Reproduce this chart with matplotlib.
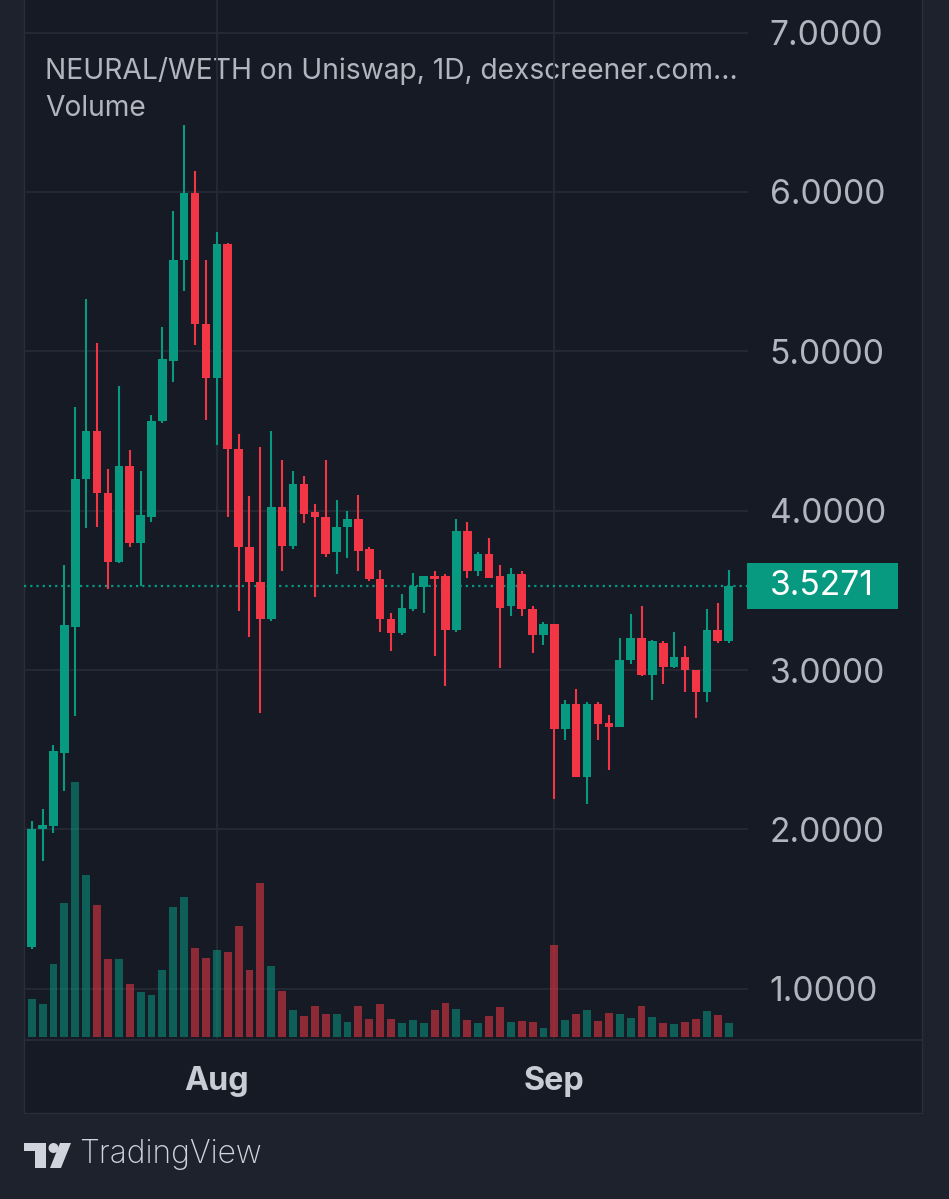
import numpy as np
import pandas as pd
import matplotlib
matplotlib.use('Agg')
import matplotlib.pyplot as plt
from matplotlib.patches import Rectangle, Circle, Polygon
from matplotlib.transforms import blended_transform_factory

plt.rcParams['font.family'] = ['Inter', 'DejaVu Sans']

# daily candles, 15 Jul -> 18 Sep
dates = pd.date_range('2024-07-15', periods=65, freq='D')

opens = [1.26, 2.00, 2.02, 2.48, 3.27, 4.20, 4.50, 4.11, 3.68, 4.28,
         3.80, 3.96, 4.56, 4.94, 5.57, 5.99, 5.17, 4.83, 5.67, 4.39,
         3.77, 3.55, 3.32, 4.02, 3.78, 4.17, 3.99, 3.96, 3.74, 3.90,
         3.95, 3.76, 3.57, 3.32, 3.23, 3.38, 3.52, 3.59, 3.59, 3.25,
         3.87, 3.62, 3.73, 3.59, 3.40, 3.60, 3.38, 3.22, 3.29, 2.63,
         2.79, 2.33, 2.79, 2.67, 2.645, 3.06, 3.20, 2.97, 3.17, 3.02,
         3.08, 3.00, 2.86, 3.25, 3.18]
highs = [2.05, 2.13, 2.53, 3.66, 4.65, 5.33, 5.05, 4.26, 4.78, 4.38,
         4.25, 4.60, 5.15, 5.88, 6.42, 6.13, 5.57, 5.75, 5.68, 4.48,
         4.09, 4.40, 4.50, 4.32, 4.25, 4.22, 4.04, 4.32, 4.07, 4.00,
         4.10, 3.77, 3.63, 3.36, 3.48, 3.61, 3.59, 3.62, 3.60, 3.95,
         3.93, 3.74, 3.83, 3.66, 3.64, 3.62, 3.40, 3.30, 3.29, 2.81,
         2.88, 2.80, 2.80, 2.72, 3.20, 3.35, 3.40, 3.19, 3.18, 3.24,
         3.15, 3.00, 3.38, 3.42, 3.63]
lows = [1.25, 1.80, 1.98, 2.24, 2.71, 3.89, 3.90, 3.51, 3.67, 3.77,
        3.53, 3.93, 4.55, 4.81, 5.38, 5.04, 4.57, 4.41, 3.96, 3.37,
        3.21, 2.73, 3.31, 3.62, 3.76, 3.92, 3.46, 3.71, 3.60, 3.70,
        3.62, 3.56, 3.24, 3.12, 3.22, 3.37, 3.36, 3.09, 2.90, 3.24,
        3.58, 3.59, 3.58, 3.01, 3.34, 3.34, 3.11, 3.16, 2.19, 2.56,
        2.33, 2.16, 2.56, 2.37, 2.64, 3.04, 2.96, 2.81, 2.91, 3.01,
        2.86, 2.70, 2.80, 3.17, 3.17]
closes = [2.00, 2.03, 2.49, 3.28, 4.20, 4.50, 4.11, 3.68, 4.28, 3.80,
          3.97, 4.56, 4.95, 5.57, 5.99, 5.17, 4.83, 5.67, 4.39, 3.77,
          3.55, 3.32, 4.02, 3.78, 4.17, 3.98, 3.96, 3.73, 3.90, 3.95,
          3.75, 3.57, 3.32, 3.23, 3.39, 3.53, 3.59, 3.57, 3.25, 3.87,
          3.62, 3.73, 3.58, 3.39, 3.60, 3.38, 3.22, 3.29, 2.63, 2.79,
          2.33, 2.79, 2.66, 2.645, 3.06, 3.20, 2.97, 3.18, 3.02, 3.08,
          3.00, 2.86, 3.25, 3.18, 3.5271]
volume = [38.3, 33.3, 72.7, 134, 255, 161.7, 132.3, 78.3, 78.3, 52.7,
          44.7, 41.7, 66.7, 129.7, 140, 89.3, 79.3, 86.7, 85.3, 110.7,
          67.3, 154.3, 70.7, 45.7, 27, 21, 31.3, 22.7, 22.7, 15,
          30.7, 18.3, 32.7, 18.3, 14.3, 17.3, 14.3, 27.3, 34.3, 28,
          16.7, 14.3, 21.3, 30, 15, 16, 15, 9, 91.7, 16.7,
          23, 27, 16.3, 24, 23, 19.3, 30.7, 20, 13.7, 12.7,
          15, 18.3, 26.3, 21.7, 13.7]
price_ticks = [1, 2, 3, 4, 5, 6, 7]
last_price = closes[-1]

UP = '#089981'
DOWN = '#f23645'
PANE = '#161a25'
OUTER = '#1e222d'
TEXT = '#b2b5be'
GRID = '#262a35'

W, H = 949, 1199
fig = plt.figure(figsize=(W / 100, H / 100), dpi=100, facecolor=OUTER)

# background / frame, drawn in pixel units
bg = fig.add_axes([0, 0, 1, 1], zorder=0)
bg.set_xlim(0, W)
bg.set_ylim(H, 0)
bg.axis('off')
bg.add_patch(Rectangle((24, -2), 898, 1115, facecolor=PANE, edgecolor='#2a2e39', lw=1))
bg.plot([24, 922], [1040, 1040], color='#2a2e39', lw=1.2)

# logo + name
logo_c = '#d1d4dc'
bg.add_patch(Rectangle((24, 1143), 22, 8, color=logo_c, lw=0))
bg.add_patch(Rectangle((35, 1143), 11, 25, color=logo_c, lw=0))
bg.add_patch(Circle((53.5, 1148), 5, color=logo_c, lw=0))
bg.add_patch(Polygon([(60, 1143), (71, 1143), (61, 1168), (50, 1168)], color=logo_c, lw=0))
bg.text(79, 1155, 'TradingView', color=logo_c, fontsize=22.8, va='center', ha='left',
        fontweight='light')

bg.text(45, 71, 'NEURAL/WETH on Uniswap, 1D, dexscreener.com...', color=TEXT,
        fontsize=20.3, va='center', ha='left')
bg.text(45, 108, 'Volume', color=TEXT, fontsize=20.3, va='center', ha='left')

# main price axes
x0, x1 = 24, 748
pos = [x0 / W, 1 - 1040 / H, (x1 - x0) / W, 1040 / H]
ax = fig.add_axes(pos, zorder=1)
ax.patch.set_alpha(0)
axv = fig.add_axes(pos, zorder=2, sharex=ax)
axv.patch.set_alpha(0)

idx = np.arange(len(dates))
o = np.array(opens)
c = np.array(closes)
hi = np.array(highs)
lo = np.array(lows)
up = c >= o
cols = np.where(up, UP, DOWN)

ax.vlines(idx, lo, hi, colors=cols, lw=1.5, zorder=3)
body_h = np.maximum(np.abs(c - o), 0.012)
ax.bar(idx, body_h, bottom=np.minimum(o, c), width=0.78, color=cols, zorder=4, lw=0)

# volume overlay in the lower part of the pane
axv.bar(idx, volume, width=0.72, color=cols, alpha=0.55, lw=0)
axv.set_ylim(-3, 1037)
axv.axis('off')

ax.set_xlim(-0.707, 65.78)
ax.set_ylim(0.679, 7.204)

ax.axhline(last_price, color=UP, lw=1.6, ls=(0, (1, 1.8)), zorder=2)

# month ticks
month_pos = [i for i, d in enumerate(dates) if d.day == 1]
ax.set_xticks(month_pos)
ax.set_xticklabels([dates[i].strftime('%b') for i in month_pos])
ax.set_yticks(price_ticks)
ax.set_yticklabels([f'{v:.4f}' for v in price_ticks])
ax.yaxis.tick_right()
ax.tick_params(axis='y', length=0, pad=15.5, labelsize=24.2, labelcolor=TEXT)
ax.tick_params(axis='x', length=0, pad=18.5, labelsize=23.3, labelcolor='#c9ccd4')
for lab in ax.get_xticklabels():
    lab.set_fontweight('bold')
ax.grid(True, color=GRID, lw=1.3, zorder=0)
for s in ax.spines.values():
    s.set_visible(False)

# last price tag
tr = blended_transform_factory(ax.transAxes, ax.transData)
half = 23 / 159.4
ax.add_patch(Rectangle(((747 - x0) / (x1 - x0), last_price - half), 151 / (x1 - x0), 2 * half,
                       transform=tr, color=UP, clip_on=False, zorder=5, lw=0))
ax.text((770 - x0) / (x1 - x0), last_price, f'{last_price:.4f}', transform=tr, color='white',
        fontsize=24.2, va='center', ha='left', zorder=6, clip_on=False)

fig.savefig('out.png', dpi=100, facecolor=fig.get_facecolor())
